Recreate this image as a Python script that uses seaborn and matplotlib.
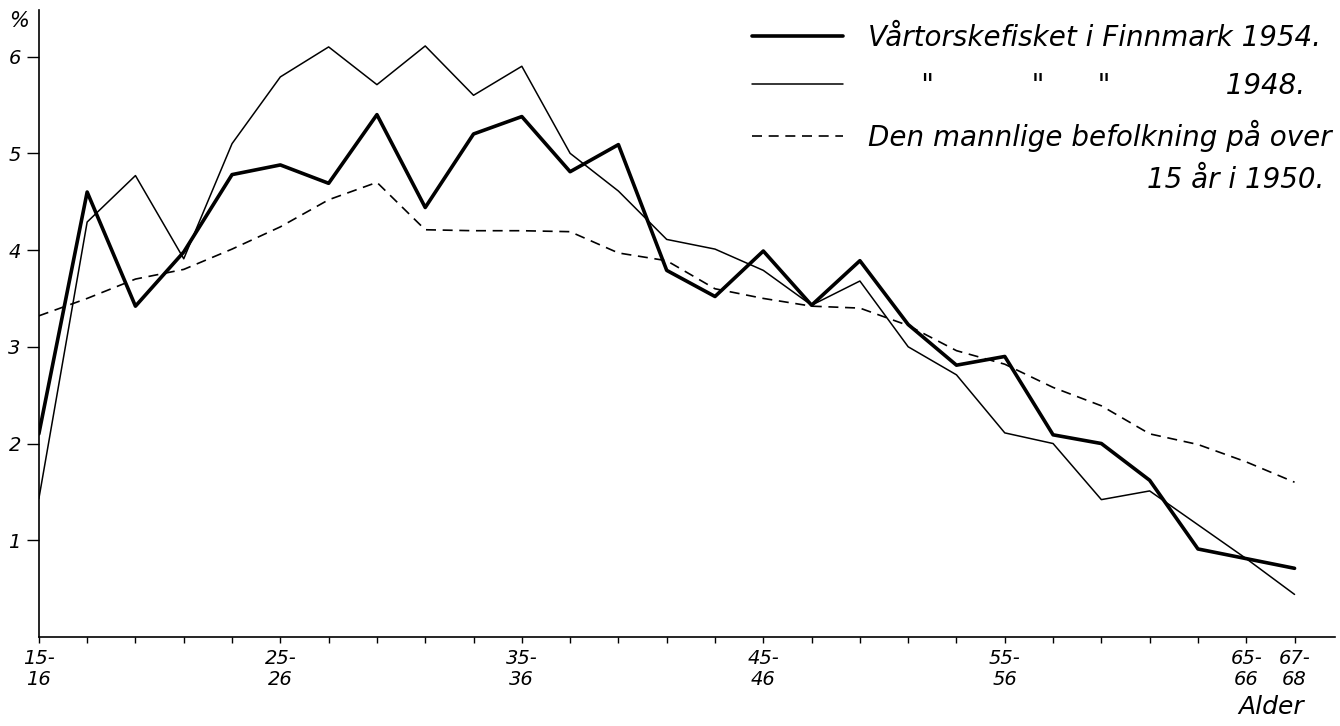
import matplotlib.pyplot as plt
import pandas as pd
import seaborn as sns

# Age groups (2-year classes) and percent of total in each group
age_groups = ['15-16', '17-18', '19-20', '21-22', '23-24', '25-26', '27-28',
              '29-30', '31-32', '33-34', '35-36', '37-38', '39-40', '41-42',
              '43-44', '45-46', '47-48', '49-50', '51-52', '53-54', '55-56',
              '57-58', '59-60', '61-62', '63-64', '65-66', '67-68']
labelled = ['15-16', '25-26', '35-36', '45-46', '55-56', '65-66', '67-68']

fiske_1954 = [2.10, 4.60, 3.42, 3.98, 4.78, 4.88, 4.69, 5.40, 4.44, 5.20,
              5.38, 4.81, 5.09, 3.79, 3.52, 3.99, 3.43, 3.89, 3.23, 2.81,
              2.90, 2.09, 2.00, 1.62, 0.91, 0.81, 0.71]
fiske_1948 = [1.43, 4.29, 4.77, 3.91, 5.10, 5.79, 6.10, 5.71, 6.11, 5.60,
              5.90, 5.00, 4.61, 4.11, 4.01, 3.79, 3.43, 3.68, 3.00, 2.71,
              2.11, 2.00, 1.42, 1.51, 1.16, 0.81, 0.44]
menn_1950 = [3.32, 3.50, 3.70, 3.80, 4.01, 4.24, 4.52, 4.70, 4.21, 4.20,
             4.20, 4.19, 3.97, 3.89, 3.60, 3.50, 3.42, 3.40, 3.22, 2.96,
             2.82, 2.58, 2.39, 2.10, 1.99, 1.81, 1.60]

df = pd.DataFrame({'alder': age_groups, 'f1954': fiske_1954,
                   'f1948': fiske_1948, 'menn': menn_1950})

sns.set_style('ticks')
plt.rcParams['font.family'] = ['DejaVu Sans']
plt.rcParams['font.style'] = 'italic'
plt.rcParams['text.color'] = 'black'
plt.rcParams['axes.labelcolor'] = 'black'
plt.rcParams['xtick.color'] = 'black'
plt.rcParams['ytick.color'] = 'black'

fig, ax = plt.subplots(figsize=(13.4, 7.26), dpi=100)
fig.subplots_adjust(left=0.029, right=0.996, bottom=0.1226, top=0.986)

sns.lineplot(data=df, x='alder', y='f1954', sort=False, color='black',
             linewidth=2.6, ax=ax, label='Vårtorskefisket i Finnmark 1954.')
sns.lineplot(data=df, x='alder', y='f1948', sort=False, color='black',
             linewidth=1.1, ax=ax,
             label='      "' + ' ' * 11 + '"' + ' ' * 6 + '"' + ' ' * 13 + '1948.')
sns.lineplot(data=df, x='alder', y='menn', sort=False, color='black',
             linewidth=1.2, linestyle=(0, (6, 4)), ax=ax,
             label='Den mannlige befolkning på over')

# axes
ax.set_xlim(0, 26.83)
ax.set_ylim(0, 6.48)
ax.set_xticks(range(len(age_groups)))
ax.set_xticklabels([a.replace('-', '-\n') if a in labelled else ''
                    for a in age_groups])
plt.setp(ax.get_xticklabels(), linespacing=1.1)
ax.set_yticks([1, 2, 3, 4, 5, 6])
ax.tick_params(axis='y', length=9, width=1, pad=4, labelsize=14)
ax.tick_params(axis='x', length=4, width=1, pad=5, labelsize=14)
sns.despine(ax=ax)
for s in ['left', 'bottom']:
    ax.spines[s].set_linewidth(1.2)
    ax.spines[s].set_color('black')

ax.set_xlabel('Alder', fontsize=18)
ax.xaxis.set_label_coords(0.951, -0.093)
ax.set_ylabel('%', rotation=0, fontsize=15, ha='center', va='center')
ax.yaxis.set_label_coords(-0.0154, 0.982)

ax.legend(loc='upper right', bbox_to_anchor=(0.998, 0.978), frameon=False,
          fontsize=20, handlelength=3.3, handletextpad=0.9, labelspacing=0.72,
          borderpad=0, borderaxespad=0)
ax.text(0.992, 0.729, '15 år i 1950.', transform=ax.transAxes,
        ha='right', va='center', fontsize=20)

fig.savefig('out.png', dpi=100)
